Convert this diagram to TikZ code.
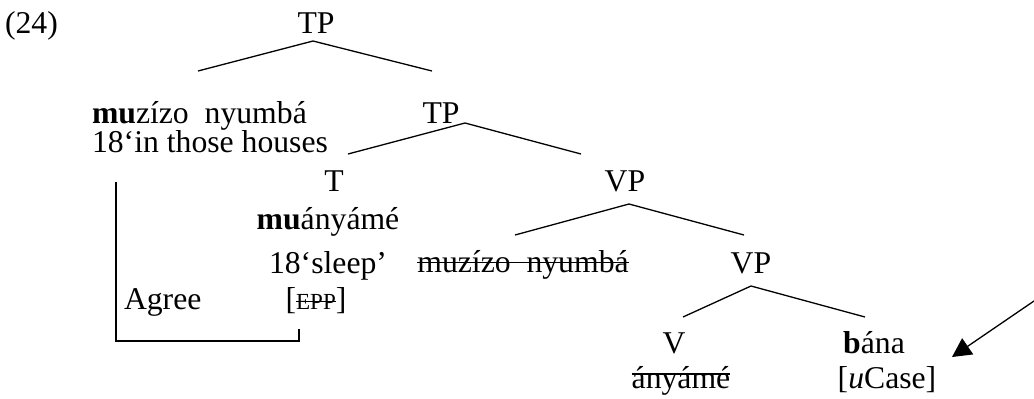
\documentclass[tikz,border=0pt]{standalone}
\usepackage{fontspec}
\setmainfont{Liberation Serif}
\usetikzlibrary{arrows.meta}
\newcommand\strk[2][0.28em]{\setbox0=\hbox{#2}\rlap{\rule[#1]{\wd0}{0.6pt}}\box0}
\begin{document}
\begin{tikzpicture}[x=0.5pt,y=-0.5pt,
  lab/.style={inner sep=0pt,outer sep=0pt,anchor=base,font=\fontsize{15.85}{19}\selectfont},
  labl/.style={lab,anchor=base west},
  branch/.style={line width=0.65pt},
  agreeline/.style={line width=0.65pt},
  arr/.style={line width=0.65pt,-{Triangle[length=9.5pt,width=9.7pt]}}]
\useasboundingbox (0,0) rectangle (1034,398);
% labels
\node[labl] (ex) at (5,33) {(24)};
\node[lab] (tp1) at (316,33) {TP};
\node[labl] (dp) at (92,123) {\textbf{mu}zízo\ \ nyumbá};
\node[labl] (dpg) at (92,152) {18‘in those houses};
\node[lab] (tp2) at (441,123) {TP};
\node[lab] (t) at (334,191) {T};
\node[lab] (tv) at (328,229) {\textbf{mu}ányámé};
\node[lab] (tg) at (328,273) {18‘sleep’};
\node[lab] (epp) at (316,309) {[\strk[0.22em]{\fontsize{11.5}{13}\selectfont EPP}]};
\node[labl] (agree) at (124,309) {Agree};
\node[lab] (vp1) at (625,191) {VP};
\node[lab] (trace) at (523,272) {\strk{muzízo\ \ nyumbá}};
\node[lab] (vp2) at (751,273) {VP};
\node[lab] (v) at (674,353) {V};
\node[lab] (vt) at (681,388) {\strk[0.42em]{ányámé}};
\node[lab] (bana) at (874,353) {\textbf{b}ána};
\node[lab] (ucase) at (887,388) {[\textit{u}Case]};
% branch points
\coordinate (a1) at (313,41); \coordinate (a1l) at (198,71); \coordinate (a1r) at (432,71);
\coordinate (a2) at (465,123); \coordinate (a2l) at (348,154); \coordinate (a2r) at (581,154);
\coordinate (a3) at (629,204); \coordinate (a3l) at (515,235); \coordinate (a3r) at (744,235);
\coordinate (a4) at (751,286); \coordinate (a4l) at (683,317); \coordinate (a4r) at (865,317);
\draw[branch] (a1l) -- (a1) -- (a1r);
\draw[branch] (a2l) -- (a2) -- (a2r);
\draw[branch] (a3l) -- (a3) -- (a3r);
\draw[branch] (a4l) -- (a4) -- (a4r);
% agree bracket
\coordinate (g1) at (116,182); \coordinate (g2) at (299,329);
\draw[agreeline] (g1) |- (g2 |- 0,341) -- (g2);
% arrow
\coordinate (s) at (1034,301); \coordinate (tip) at (952,357);
\draw[arr] (s) -- (tip);
\end{tikzpicture}
\end{document}
